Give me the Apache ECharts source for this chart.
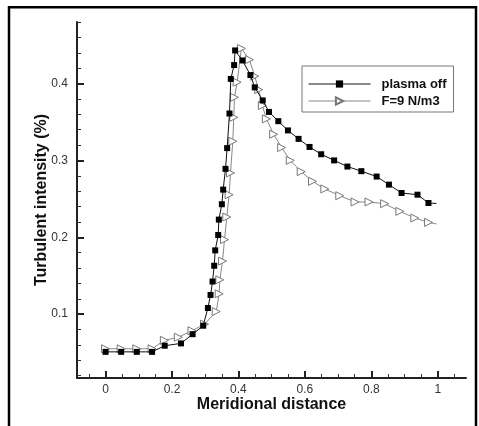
<!DOCTYPE html>
<html><head><meta charset="utf-8">
<script src="https://cdn.jsdelivr.net/npm/echarts@6/dist/echarts.min.js"></script>
<style>html,body{margin:0;padding:0;background:#fff}#c{width:479px;height:426px}</style>
</head><body><div id="c"></div>
<script>
// ---- data ----
const offX = [0, 0.047, 0.094, 0.140, 0.178, 0.227, 0.262, 0.294, 0.308, 0.316, 0.322, 0.327, 0.330, 0.339, 0.341, 0.350, 0.354, 0.361, 0.366, 0.373, 0.377, 0.387, 0.390, 0.412, 0.436, 0.449, 0.473, 0.492, 0.520, 0.549, 0.581, 0.614, 0.649, 0.688, 0.728, 0.770, 0.816, 0.853, 0.891, 0.939, 0.972, 0.996];
const offY = [0.051, 0.051, 0.051, 0.051, 0.059, 0.062, 0.074, 0.085, 0.108, 0.125, 0.1425, 0.163, 0.183, 0.203, 0.223, 0.243, 0.262, 0.289, 0.316, 0.361, 0.406, 0.424, 0.443, 0.430, 0.411, 0.395, 0.378, 0.363, 0.351, 0.339, 0.328, 0.3175, 0.308, 0.300, 0.292, 0.286, 0.279, 0.2685, 0.2576, 0.2554, 0.2446, 0.244];
const fX = [0, 0.047, 0.094, 0.140, 0.177, 0.219, 0.260, 0.298, 0.333, 0.342, 0.344, 0.352, 0.358, 0.365, 0.372, 0.376, 0.383, 0.386, 0.388, 0.396, 0.409, 0.433, 0.449, 0.461, 0.472, 0.484, 0.506, 0.530, 0.556, 0.589, 0.623, 0.660, 0.705, 0.751, 0.793, 0.840, 0.886, 0.931, 0.972, 0.996];
const fY = [0.055, 0.055, 0.055, 0.055, 0.066, 0.070, 0.0785, 0.087, 0.1034, 0.1265, 0.1447, 0.169, 0.197, 0.2264, 0.2554, 0.2837, 0.3249, 0.356, 0.382, 0.4017, 0.4456, 0.431, 0.4095, 0.392, 0.3714, 0.354, 0.334, 0.3167, 0.300, 0.2854, 0.2728, 0.2629, 0.2541, 0.2459, 0.2459, 0.2437, 0.2337, 0.2251, 0.2194, 0.2173];
const seriesNames = ['plasma off', 'F=9 N/m3'];
const xMajor = [0, 0.2, 0.4, 0.6, 0.8, 1];
const xMinor = [-0.05, 0.05, 0.1, 0.15, 0.25, 0.3, 0.35, 0.45, 0.5, 0.55, 0.65, 0.7, 0.75, 0.85, 0.9, 0.95, 1.05];
const yMajor = [0.1, 0.2, 0.3, 0.4];
const yMinor = [0.02, 0.04, 0.06, 0.08, 0.12, 0.14, 0.16, 0.18, 0.22, 0.24, 0.26, 0.28, 0.32, 0.34, 0.36, 0.38, 0.42, 0.44, 0.46, 0.48];
const xTitle = 'Meridional distance';
const yTitle = 'Turbulent intensity (%)';

const FONT = '"Liberation Sans", Arial, sans-serif';
const X_MIN = -0.086, X_MAX = 1.085, Y_MIN = 0.017, Y_MAX = 0.48;

function pairs(xs, ys, lastNoSymbol) {
  return xs.map((x, i) => (lastNoSymbol && i === xs.length - 1) ? { value: [x, ys[i]], symbol: 'none' } : [x, ys[i]]);
}

const chart = echarts.init(document.getElementById('c'), null, { renderer: 'canvas' });
const majorX = {
  type: 'value', min: X_MIN, max: X_MAX, position: 'bottom',
  axisLine: { show: true, onZero: false, lineStyle: { color: '#222', width: 2 } },
  axisTick: { show: true, inside: true, length: 7, customValues: xMajor, lineStyle: { color: '#222', width: 2 } },
  axisLabel: { show: true, customValues: xMajor, margin: 6, fontFamily: FONT, fontSize: 12, color: '#333', formatter: v => String(v) },
  splitLine: { show: false },
  name: xTitle, nameLocation: 'middle', nameGap: 19, nameMoveOverlap: false,
  nameTextStyle: { fontFamily: FONT, fontSize: 16, fontWeight: 'bold', color: '#111' }
};
const minorX = {
  type: 'value', min: X_MIN, max: X_MAX, position: 'bottom',
  axisLine: { show: false, onZero: false },
  axisTick: { show: true, inside: true, length: 4, customValues: xMinor, lineStyle: { color: '#333', width: 1 } },
  axisLabel: { show: false }, splitLine: { show: false }
};
const majorY = {
  type: 'value', min: Y_MIN, max: Y_MAX, position: 'left',
  axisLine: { show: true, onZero: false, lineStyle: { color: '#222', width: 2 } },
  axisTick: { show: true, inside: true, length: 7, customValues: yMajor, lineStyle: { color: '#222', width: 2 } },
  axisLabel: { show: true, customValues: yMajor, margin: 9, fontFamily: FONT, fontSize: 12, color: '#333', formatter: v => String(v) },
  splitLine: { show: false },
  name: yTitle, nameLocation: 'middle', nameGap: 27, nameMoveOverlap: false,
  nameTextStyle: { fontFamily: FONT, fontSize: 16, fontWeight: 'bold', color: '#111' }
};
const minorY = {
  type: 'value', min: Y_MIN, max: Y_MAX, position: 'left',
  axisLine: { show: false, onZero: false },
  axisTick: { show: true, inside: true, length: 4, customValues: yMinor, lineStyle: { color: '#333', width: 1 } },
  axisLabel: { show: false }, splitLine: { show: false }
};

chart.setOption({
  animation: false,
  backgroundColor: '#fff',
  grid: { left: 77, right: 13, top: 22, bottom: 48, containLabel: false },
  xAxis: [majorX, minorX],
  yAxis: [majorY, minorY],
  legend: {
    orient: 'vertical', left: 302, top: 66, data: seriesNames,
    itemWidth: 62, itemHeight: 9, itemGap: 3, padding: [11, 7, 4, 6],
    borderColor: '#777', borderWidth: 1, backgroundColor: '#fff',
    selectedMode: false,
    lineStyle: { width: 1 },
    textStyle: { fontFamily: FONT, fontSize: 13, fontWeight: 'bold', color: '#111', lineHeight: 14, padding: [0, 0, 0, 6] }
  },
  series: [
    {
      name: seriesNames[1], type: 'line', xAxisIndex: 0, yAxisIndex: 0,
      data: pairs(fX, fY, true),
      symbol: 'triangle', symbolRotate: -90, symbolSize: 8, showAllSymbol: true,
      lineStyle: { color: '#888', width: 1 },
      itemStyle: { color: '#fff', borderColor: '#777', borderWidth: 1 },
      z: 2
    },
    {
      name: seriesNames[0], type: 'line', xAxisIndex: 0, yAxisIndex: 0,
      data: pairs(offX, offY, true),
      symbol: 'rect', symbolSize: 6, showAllSymbol: true,
      lineStyle: { color: '#111', width: 1 },
      itemStyle: { color: '#000' },
      z: 3
    }
  ],
  graphic: [{
    type: 'rect', silent: true, z: 100,
    shape: { x: 9, y: 7.2, width: 467, height: 500 },
    style: { fill: 'none', stroke: '#000', lineWidth: 2.5 }
  }]
});
</script>
</body></html>
